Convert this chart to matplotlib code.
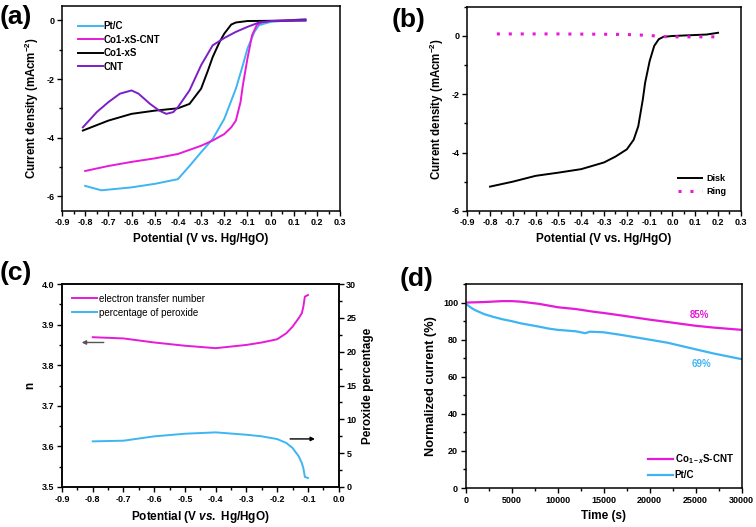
import numpy as np
import matplotlib
matplotlib.use("Agg")
import matplotlib.pyplot as plt
from matplotlib.ticker import MultipleLocator

plt.rcParams["font.family"] = ["Liberation Sans", "DejaVu Sans"]
plt.rcParams["font.weight"] = "bold"
plt.rcParams["axes.labelweight"] = "bold"
plt.rcParams["axes.unicode_minus"] = False
plt.rcParams["mathtext.fontset"] = "custom"
plt.rcParams["mathtext.rm"] = "Liberation Sans:bold"
plt.rcParams["mathtext.it"] = "Liberation Sans:bold:italic"
plt.rcParams["mathtext.bf"] = "Liberation Sans:bold"

BLUE = "#3db5f2"
MAGENTA = "#e61ad8"
PURPLE = "#7b1fc9"

# ---- (a) LSV curves ----
ptc_v = [-0.80, -0.73, -0.60, -0.50, -0.40, -0.35, -0.30, -0.25, -0.20, -0.15, -0.12, -0.10, -0.07, -0.05, 0.00, 0.15]
ptc_j = [-5.65, -5.80, -5.70, -5.58, -5.42, -4.97, -4.50, -4.05, -3.36, -2.33, -1.53, -0.96, -0.39, -0.16, -0.05, 0.05]

cocnt_v = [-0.80, -0.70, -0.60, -0.50, -0.40, -0.30, -0.25, -0.20, -0.17, -0.15, -0.13, -0.12, -0.10, -0.08, -0.06, -0.04, 0.00, 0.15]
cocnt_j = [-5.14, -4.97, -4.83, -4.71, -4.56, -4.28, -4.10, -3.88, -3.65, -3.42, -2.79, -2.22, -1.30, -0.50, -0.16, -0.07, -0.02, 0.03]

cos_v = [-0.81, -0.70, -0.60, -0.50, -0.40, -0.35, -0.30, -0.27, -0.25, -0.22, -0.20, -0.17, -0.15, -0.10, 0.15]
cos_j = [-3.76, -3.42, -3.19, -3.08, -3.00, -2.85, -2.33, -1.70, -1.25, -0.73, -0.45, -0.14, -0.07, -0.02, 0.00]

cnt_v = [-0.81, -0.75, -0.70, -0.65, -0.60, -0.57, -0.52, -0.48, -0.45, -0.42, -0.40, -0.35, -0.30, -0.25, -0.20, -0.15, -0.10, -0.05, 0.00, 0.15]
cnt_j = [-3.65, -3.13, -2.79, -2.50, -2.39, -2.50, -2.85, -3.08, -3.19, -3.13, -2.96, -2.39, -1.53, -0.85, -0.60, -0.39, -0.22, -0.07, -0.02, 0.00]

# ---- (b) RRDE disk / ring ----
disk_v = [-0.80, -0.70, -0.60, -0.50, -0.40, -0.30, -0.25, -0.20, -0.17, -0.15, -0.13, -0.12, -0.10, -0.08, -0.06, -0.04, 0.00, 0.15, 0.20]
disk_j = [-5.17, -5.00, -4.80, -4.69, -4.57, -4.34, -4.14, -3.89, -3.56, -3.10, -2.18, -1.61, -0.86, -0.34, -0.11, -0.03, 0.00, 0.05, 0.11]
ring_v = [-0.77, -0.50, -0.30, -0.20, -0.10, -0.05, 0.00, 0.20]
ring_j = [0.07, 0.07, 0.06, 0.05, 0.02, -0.02, -0.03, -0.03]

# ---- (c) electron transfer number / peroxide ----
c_v = [-0.80, -0.70, -0.60, -0.50, -0.40, -0.30, -0.25, -0.20, -0.17, -0.15, -0.13, -0.12, -0.115, -0.11, -0.10]
n_vals = [3.869, 3.866, 3.856, 3.848, 3.842, 3.850, 3.856, 3.864, 3.879, 3.895, 3.916, 3.928, 3.944, 3.969, 3.973]
perox = [6.74, 6.84, 7.48, 7.87, 8.07, 7.72, 7.48, 7.08, 6.49, 5.76, 4.53, 3.54, 2.80, 1.48, 1.33]

# ---- (d) chronoamperometry ----
t_co = [0, 2000, 4000, 5000, 6000, 8000, 10000, 12000, 14000, 15000, 17000, 20000, 22000, 25000, 27000, 30000]
i_co = [100.0, 100.3, 100.8, 100.8, 100.5, 99.3, 97.5, 96.5, 95.0, 94.4, 93.0, 90.8, 89.5, 87.5, 86.5, 85.3]
t_pt = [0, 500, 1000, 2000, 3000, 4000, 5000, 6000, 8000, 9000, 10000, 12000, 13000, 13500, 15000, 17000, 20000, 22000, 25000, 27000, 30000]
i_pt = [99.5, 97.5, 96.0, 93.8, 92.3, 91.0, 90.0, 88.8, 87.0, 86.0, 85.3, 84.5, 83.5, 84.3, 84.0, 82.5, 80.0, 78.3, 74.8, 72.5, 69.5]

fig = plt.figure(figsize=(7.56, 5.27), dpi=100)
ax_a = fig.add_axes([0.082, 0.600, 0.368, 0.389])
ax_b = fig.add_axes([0.618, 0.600, 0.362, 0.387])
ax_c = fig.add_axes([0.082, 0.076, 0.366, 0.385])
ax_d = fig.add_axes([0.616, 0.074, 0.365, 0.387])


def style(ax, right=False):
    for sp in ax.spines.values():
        sp.set_linewidth(1.1)
    ax.tick_params(which="major", direction="out", length=3.5, width=1.0, labelsize=6.5, pad=2)
    ax.tick_params(which="minor", direction="out", length=2, width=1.0)
    ax.tick_params(top=False, right=right, which="both")
    for lab in ax.get_xticklabels() + ax.get_yticklabels():
        lab.set_fontweight("bold")


lw = 1.4
ylab = "Current density (mAcm$^{-2}$)"
xlab = "Potential (V vs. Hg/HgO)"

# (a)
ax_a.plot(ptc_v, ptc_j, color=BLUE, lw=lw, label="Pt/C")
ax_a.plot(cocnt_v, cocnt_j, color=MAGENTA, lw=lw, label="Co1-xS-CNT")
ax_a.plot(cos_v, cos_j, color="black", lw=lw, label="Co1-xS")
ax_a.plot(cnt_v, cnt_j, color=PURPLE, lw=lw, label="CNT")
ax_a.set_xlim(-0.9, 0.3)
ax_a.set_ylim(-6.5, 0.5)
ax_a.xaxis.set_major_locator(MultipleLocator(0.1))
ax_a.xaxis.set_minor_locator(MultipleLocator(0.05))
ax_a.yaxis.set_major_locator(MultipleLocator(2))
ax_a.yaxis.set_minor_locator(MultipleLocator(1))
ax_a.set_xlabel(xlab, fontsize=8.5)
ax_a.set_ylabel(ylab, fontsize=8.3)
ax_a.legend(loc="upper left", frameon=False, handlelength=2.6,
            handletextpad=0.1, labelspacing=0.35, borderaxespad=1.2,
            prop={"weight": "bold", "size": 7})
style(ax_a)

# (b)
ax_b.plot(disk_v, disk_j, color="black", lw=lw, label="Disk")
ax_b.plot(ring_v, ring_j, color=MAGENTA, lw=2.2, linestyle=(0, (1, 2.9)), label="Ring")
ax_b.set_xlim(-0.9, 0.3)
ax_b.set_ylim(-6, 1)
ax_b.xaxis.set_major_locator(MultipleLocator(0.1))
ax_b.xaxis.set_minor_locator(MultipleLocator(0.05))
ax_b.yaxis.set_major_locator(MultipleLocator(2))
ax_b.yaxis.set_minor_locator(MultipleLocator(1))
ax_b.set_xlabel(xlab, fontsize=8.5)
ax_b.set_ylabel(ylab, fontsize=8.3)
ax_b.legend(loc="lower right", frameon=False, handlelength=2.6,
            handletextpad=0.5, labelspacing=0.45, borderaxespad=1.2,
            prop={"weight": "bold", "size": 6.5})
style(ax_b)

# (c)
ax_c.plot(c_v, n_vals, color=MAGENTA, lw=lw, label="electron transfer number")
ax_c2 = ax_c.twinx()
ax_c2.plot(c_v, perox, color=BLUE, lw=lw)
ax_c.plot([], [], color=BLUE, lw=lw, label="percentage of peroxide")
ax_c.set_xlim(-0.9, 0.0)
ax_c.set_ylim(3.5, 4.0)
ax_c2.set_ylim(0, 30)
ax_c.xaxis.set_major_locator(MultipleLocator(0.1))
ax_c.xaxis.set_minor_locator(MultipleLocator(0.05))
ax_c.yaxis.set_major_locator(MultipleLocator(0.1))
ax_c.yaxis.set_minor_locator(MultipleLocator(0.05))
ax_c2.yaxis.set_major_locator(MultipleLocator(5))
ax_c2.yaxis.set_minor_locator(MultipleLocator(2.5))
ax_c.set_xlabel("Potential (V $\\mathit{vs.}$ Hg/HgO)", fontsize=8.5)
ax_c.set_ylabel("n", fontsize=8.5)
ax_c2.set_ylabel("Peroxide percentage", fontsize=8.5)
ax_c.legend(loc="upper left", frameon=False, handlelength=2.6,
            handletextpad=0.2, labelspacing=0.4, borderaxespad=0.6,
            prop={"weight": "normal", "size": 7})
ax_c.annotate("", xy=(-0.845, 3.856), xytext=(-0.755, 3.856),
              arrowprops=dict(arrowstyle="-|>", color="#555555", lw=1.0, mutation_scale=6))
ax_c2.annotate("", xy=(-0.068, 7.1), xytext=(-0.167, 7.1),
               arrowprops=dict(arrowstyle="-|>", color="black", lw=1.0, mutation_scale=6))
style(ax_c)
ax_c2.tick_params(which="major", direction="out", length=3.5, width=1.0, labelsize=6.5, pad=2)
ax_c2.tick_params(which="minor", direction="out", length=2, width=1.0)
for lab in ax_c2.get_yticklabels():
    lab.set_fontweight("bold")
for sp in ax_c2.spines.values():
    sp.set_linewidth(1.1)

# (d)
ax_d.plot(t_co, i_co, color=MAGENTA, lw=1.6, label="Co$_{1-x}$S-CNT")
ax_d.plot(t_pt, i_pt, color=BLUE, lw=1.6, label="Pt/C")
ax_d.set_xlim(0, 30000)
ax_d.set_ylim(0, 110)
ax_d.xaxis.set_major_locator(MultipleLocator(5000))
ax_d.xaxis.set_minor_locator(MultipleLocator(2500))
ax_d.yaxis.set_major_locator(MultipleLocator(20))
ax_d.yaxis.set_minor_locator(MultipleLocator(10))
ax_d.set_xlabel("Time (s)", fontsize=8.5)
ax_d.set_ylabel("Normalized current (%)", fontsize=9.2)
ax_d.text(25450, 93.4, "85%", color=MAGENTA, fontsize=7, fontweight="bold", ha="center", va="center")
ax_d.text(25600, 66.8, "69%", color=BLUE, fontsize=7, fontweight="bold", ha="center", va="center")
ax_d.legend(loc="lower right", frameon=False, handlelength=2.6,
            handletextpad=0.2, labelspacing=0.4, borderaxespad=0.4,
            prop={"weight": "bold", "size": 7})
style(ax_d)

# panel labels
for x, y, s in [(0.0, 0.99, "(a)"), (0.518, 0.985, "(b)"), (0.0, 0.505, "(c)"), (0.528, 0.493, "(d)")]:
    fig.text(x, y, s, fontsize=19, fontweight="bold", va="top", ha="left")

fig.savefig("out.png", dpi=100)
